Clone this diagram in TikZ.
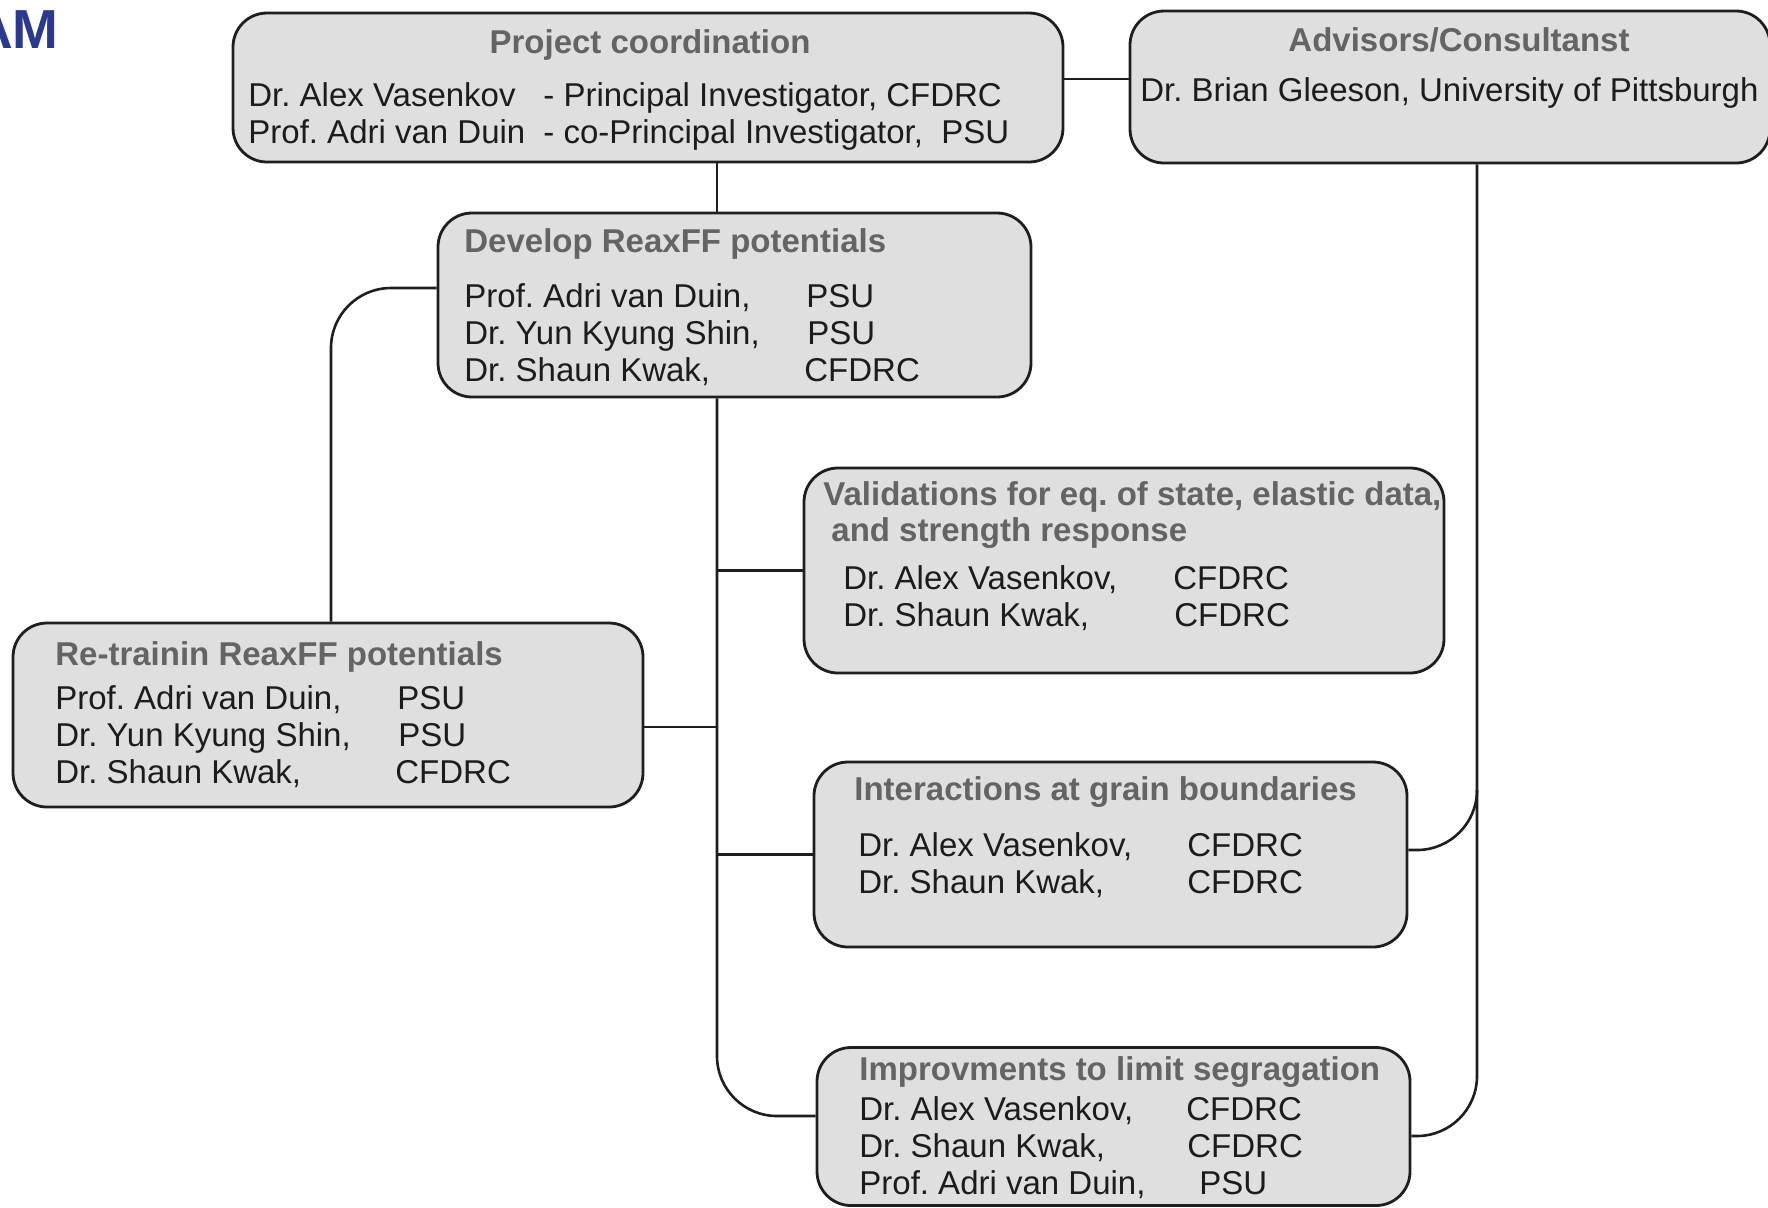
\documentclass[tikz,border=0pt]{standalone}
\usepackage{fontspec}
\setmainfont{Liberation Sans}
\usetikzlibrary{calc}
\frenchspacing
\definecolor{boxgray}{RGB}{223,223,223}
\definecolor{titlegray}{RGB}{100,100,100}
\definecolor{textblack}{RGB}{28,28,28}
\definecolor{linecol}{RGB}{30,30,30}
\definecolor{titleblue}{RGB}{43,57,143}
\begin{document}
\begin{tikzpicture}[x=0.5pt,y=-0.5pt,
  font=\fontsize{16.5pt}{19pt}\selectfont,
  box/.style={draw=linecol, line width=1.4pt, fill=boxgray, rounded corners=17pt, inner sep=0pt},
  ttl/.style={font=\fontsize{16.5pt}{19pt}\selectfont\bfseries, text=titlegray, inner sep=0pt, anchor=base west},
  txt/.style={text=textblack, inner sep=0pt, anchor=base west},
  conn/.style={draw=linecol, line width=1.3pt}]
\useasboundingbox (0,0) rectangle (1768,1207);

% heading fragment
\node[font=\fontsize{27.5pt}{30pt}\selectfont\bfseries, text=titleblue, inner sep=0pt, anchor=base east] (am) at (59,48) {AM};

% boxes
\node[box, minimum width=415pt, minimum height=74.5pt] (pc) at (648,87.5) {};
\node[box, minimum width=320pt, minimum height=76pt] (adv) at (1450,87) {};
\node[box, minimum width=296.5pt, minimum height=92pt] (dev) at (734.5,305) {};
\node[box, minimum width=320pt, minimum height=102.5pt] (val) at (1124,570.5) {};
\node[box, minimum width=315pt, minimum height=92pt] (ret) at (328,715) {};
\node[box, minimum width=296.5pt, minimum height=92.5pt] (int) at (1110.5,854.5) {};
\node[box, minimum width=296.5pt, minimum height=79pt] (imp) at (1113.5,1126.5) {};

% connector guides
\coordinate (tx) at (717,0);
\coordinate (rx) at (1477,0);
\coordinate (lx) at (331,0);

% connectors
\draw[conn] (pc.east |- 0,79) -- (adv.west |- 0,79);
\draw[conn] (tx |- pc.south) -- (tx |- dev.north);
\draw[conn, rounded corners=30pt] (tx |- dev.south) |- (imp.west |- 0,1116);
\draw[conn] (tx |- val.west) -- (val.west);
\draw[conn] (ret.east |- 0,727) -- (tx |- 0,727);
\draw[conn] (tx |- int.west) -- (int.west);
\draw[conn, rounded corners=30pt] (dev.west |- 0,288) -| (lx |- ret.north);
\draw[conn, rounded corners=30pt] (rx |- adv.south) |- (imp.east |- 0,1136);
\draw[conn, rounded corners=30pt] (int.east |- 0,850) -| (rx |- 0,790);

% Project coordination
\node[ttl, anchor=base] (pcT) at (650,53) {Project coordination};
\node[txt] (pc1a) at (248,106) {Dr. Alex Vasenkov};
\node[txt] (pc1b) at (543,106) {- Principal Investigator, CFDRC};
\node[txt] (pc2a) at (248,143) {Prof. Adri van Duin};
\node[txt] (pc2b) at (543,143) {- co-Principal Investigator,\ \ PSU};

% Advisors
\node[ttl, anchor=base] (advT) at (1459,51) {Advisors/Consultanst};
\node[txt] (adv1) at (1140,101) {Dr. Brian Gleeson, University of Pittsburgh};

% Develop
\node[ttl] (devT) at (464,252) {Develop ReaxFF potentials};
\node[txt] (dev1a) at (464,307) {Prof. Adri van Duin,};
\node[txt] (dev1b) at (806,307) {PSU};
\node[txt] (dev2a) at (464,344) {Dr. Yun Kyung Shin,};
\node[txt] (dev2b) at (807,344) {PSU};
\node[txt] (dev3a) at (464,381) {Dr. Shaun Kwak,};
\node[txt] (dev3b) at (804,381) {CFDRC};

% Validations
\node[ttl] (valT1) at (823,505) {Validations for eq. of state, elastic data,};
\node[ttl] (valT2) at (831,541) {and strength response};
\node[txt] (val1a) at (843,589) {Dr. Alex Vasenkov,};
\node[txt] (val1b) at (1173,589) {CFDRC};
\node[txt] (val2a) at (843,626) {Dr. Shaun Kwak,};
\node[txt] (val2b) at (1174,626) {CFDRC};

% Re-trainin
\node[ttl] (retT) at (55,665) {Re-trainin ReaxFF potentials};
\node[txt] (ret1a) at (55,709) {Prof. Adri van Duin,};
\node[txt] (ret1b) at (397,709) {PSU};
\node[txt] (ret2a) at (55,746) {Dr. Yun Kyung Shin,};
\node[txt] (ret2b) at (398,746) {PSU};
\node[txt] (ret3a) at (55,783) {Dr. Shaun Kwak,};
\node[txt] (ret3b) at (395,783) {CFDRC};

% Interactions
\node[ttl] (intT) at (854,800) {Interactions at grain boundaries};
\node[txt] (int1a) at (858,856) {Dr. Alex Vasenkov,};
\node[txt] (int1b) at (1187,856) {CFDRC};
\node[txt] (int2a) at (858,893) {Dr. Shaun Kwak,};
\node[txt] (int2b) at (1187,893) {CFDRC};

% Improvments
\node[ttl] (impT) at (859,1080) {Improvments to limit segragation};
\node[txt] (imp1a) at (859,1120) {Dr. Alex Vasenkov,};
\node[txt] (imp1b) at (1186,1120) {CFDRC};
\node[txt] (imp2a) at (859,1157) {Dr. Shaun Kwak,};
\node[txt] (imp2b) at (1187,1157) {CFDRC};
\node[txt] (imp3a) at (859,1194) {Prof. Adri van Duin,};
\node[txt] (imp3b) at (1199,1194) {PSU};
\end{tikzpicture}
\end{document}
